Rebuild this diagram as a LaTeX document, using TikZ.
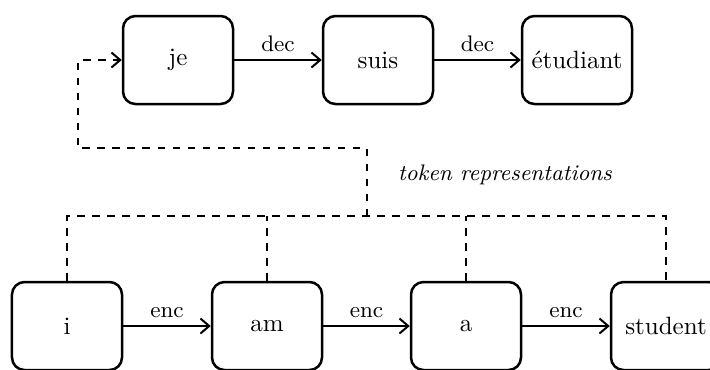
\documentclass[tikz,border=0pt]{standalone}
\usetikzlibrary{arrows.meta}
\begin{document}
\begin{tikzpicture}[x=0.4pt,y=-0.4pt,
  tokbox/.style={draw, line width=1pt, rounded corners=5pt,
    minimum width=44pt, minimum height=35.2pt, inner sep=1pt},
  flow/.style={line width=0.8pt, -{Straight Barb[length=3.5pt,width=6pt]}},
  rep/.style={line width=0.8pt, dashed},
  lbl/.style={above, font=\small, inner sep=3pt}]
  \clip (0,0) rectangle (710,369);

  % decoder tokens
  \node[tokbox] (je)  at (178,60) {je};
  \node[tokbox] (suis) at (378,60) {suis};
  \node[tokbox] (etu) at (577,60) {étudiant};

  % encoder tokens
  \node[tokbox] (i)   at (67,326)  {i};
  \node[tokbox] (am)  at (267,326) {am};
  \node[tokbox] (a)   at (466,326) {a};
  \node[tokbox] (stu) at (666,326) {student};

  \draw[flow] (je) -- node[lbl] {dec} (suis);
  \draw[flow] (suis) -- node[lbl] {dec} (etu);
  \draw[flow] (i) -- node[lbl] {enc} (am);
  \draw[flow] (am) -- node[lbl] {enc} (a);
  \draw[flow] (a) -- node[lbl] {enc} (stu);

  % gathered token representations
  \coordinate (bus) at (367,216);
  \coordinate (turn) at (78,148);
  \draw[rep] (i.north) |- (bus) -| (stu.north);
  \draw[rep] (am.north) -- (am.north |- bus);
  \draw[rep] (a.north) -- (a.north |- bus);
  \draw[rep, -{Straight Barb[length=3.5pt,width=6pt]}] (bus) |- (turn) |- (je.west);

  \node[font=\small\itshape] (tr) at (505,175) {token representations};
\end{tikzpicture}
\end{document}
